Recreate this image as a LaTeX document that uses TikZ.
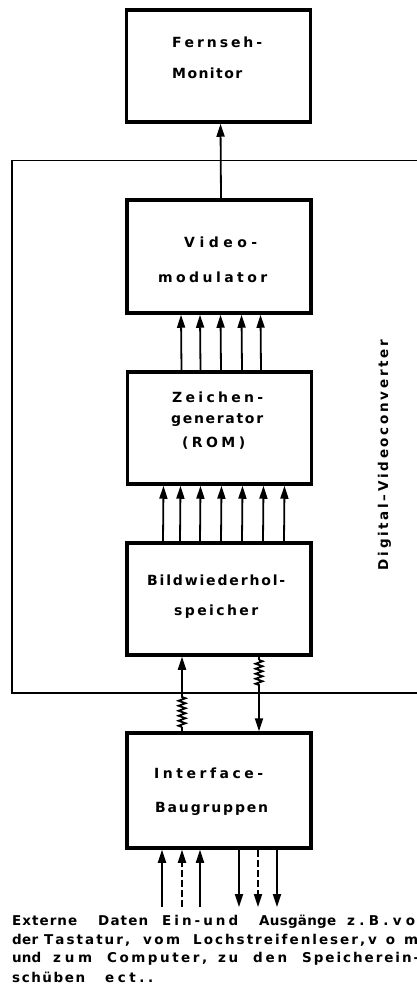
\documentclass[tikz,border=0pt]{standalone}
\usepackage{fontspec}
\newfontfamily\boxfont[UprightFont=* Bold]{DejaVu Sans}
\usetikzlibrary{arrows.meta,decorations.pathmorphing}
\newcommand\spreadword[2]{\makebox[#1][s]{\spreadfirst#2\relax}}
\def\spreadfirst#1{#1\spreadrest}
\def\spreadrest#1{\ifx#1\relax\else\hfil#1\expandafter\spreadrest\fi}
\begin{document}
\begin{tikzpicture}[x=1pt,y=-1pt,
  blk/.style={draw, line width=3.5pt, minimum width=184pt, minimum height=112pt, inner sep=0pt},
  frame/.style={draw, line width=1.3pt, inner sep=0pt},
  con/.style={line width=1.8pt},
  arr/.style={con, -{Triangle[length=13pt,width=8pt]}},
  dsh/.style={dash pattern=on 7pt off 3pt},
  zig/.style={con, decorate, decoration={zigzag, segment length=5pt, amplitude=3.5pt}},
  btxt/.style={font=\boxfont\fontsize{14}{16}\selectfont, inner sep=0pt, anchor=base west},
  ntxt/.style={font=\boxfont\fontsize{13.5}{15}\selectfont, inner sep=0pt, anchor=base west}]
\useasboundingbox (0,0) rectangle (417,987);
\fill[white] (0,0) rectangle (417,987);
\clip (0,0) rectangle (417,987);

% container
\node[frame, minimum width=418pt, minimum height=532.5pt] (dvc) at (221,426.75) {};

% blocks
\node[blk] (mon) at (218.5,66) {};
\node[blk, minimum height=113pt] (vm) at (219,256.5) {};
\node[blk] (zg) at (219.5,428) {};
\node[blk] (bw) at (219,599) {};
\node[blk, minimum height=115pt] (ifc) at (219,790.5) {};

% block texts
\node[btxt] (t1a) at (172,48) {\spreadword{90pt}{Fernseh-}};
\node[btxt] (t1b) at (172,79) {\spreadword{70pt}{Monitor}};
\node[btxt] (t2a) at (184,247) {\spreadword{73pt}{Video-}};
\node[btxt] (t2b) at (158,282) {\spreadword{109pt}{modulator}};
\node[btxt] (t3a) at (172,402) {\spreadword{91pt}{Zeichen-}};
\node[btxt] (t3b) at (171,423) {\spreadword{92pt}{generator}};
\node[btxt] (t3c) at (182,447) {\spreadword{63pt}{(ROM)}};
\node[btxt] (t4a) at (147,585) {\spreadword{138pt}{Bildwiederhol-}};
\node[btxt] (t4b) at (174,615) {\spreadword{84pt}{speicher}};
\node[btxt] (t5a) at (154,778) {\spreadword{109pt}{Interface-}};
\node[btxt] (t5b) at (155,812) {\spreadword{113pt}{Baugruppen}};

% vertical label
\node[ntxt, anchor=base, rotate=90] (lbl) at (388,455) {\spreadword{230pt}{Digital–Videoconverter}};

% video -> monitor
\draw[arr] ([xshift=2pt]vm.north) -- ([xshift=2pt]mon.south);

% zeichengenerator -> videomodulator
\foreach \dx in {-38,-19,1.5,22.5,41.5}
  \draw[arr] ([xshift=\dx pt]zg.north) -- ([xshift=\dx pt]vm.south);

% bildwiederholspeicher -> zeichengenerator
\foreach \dx in {-56,-39,-19,2,23,44,65}
  \draw[arr] ([xshift=\dx pt]bw.north) -- ([xshift=\dx pt]zg.south);

% interface <-> bildwiederholspeicher
\coordinate (lz1) at (182,727);
\coordinate (lz2) at (182,695);
\draw[con] (ifc.north -| lz1) -- (lz1);
\draw[zig] (lz1) -- (lz2);
\draw[arr] (lz2) -- (bw.south -| lz2);
\coordinate (rz1) at (259,660);
\coordinate (rz2) at (259,687);
\draw[con] (bw.south -| rz1) -- (rz1);
\draw[zig] (rz1) -- (rz2);
\draw[arr] (rz2) -- (ifc.north -| rz2);

% external inputs / outputs
\coordinate (e1) at (162,907);
\coordinate (e2) at (182,907);
\coordinate (e3) at (200,907);
\coordinate (a1) at (239,907);
\coordinate (a2) at (258,907);
\coordinate (a3) at (277,907);
\draw[arr] (e1) -- (ifc.south -| e1);
\draw[arr, dsh] (e2) -- (ifc.south -| e2);
\draw[arr] (e3) -- (ifc.south -| e3);
\draw[arr] (ifc.south -| a1) -- (a1);
\draw[arr, dsh] (ifc.south -| a2) -- (a2);
\draw[arr] (ifc.south -| a3) -- (a3);

% note text
\node[ntxt] (n11) at (12,925) {\spreadword{65pt}{Externe}};
\node[ntxt] (n12) at (98,925) {\spreadword{50pt}{Daten}};
\node[ntxt] (n13) at (162,925) {\spreadword{76pt}{Ein-und}};
\node[ntxt] (n14) at (259,925) {\spreadword{77pt}{Ausgänge}};
\node[ntxt] (n15) at (347,925) {\spreadword{82pt}{z.B.von}};
\node[ntxt] (n21) at (12,944) {\spreadword{26pt}{der}};
\node[ntxt] (n22) at (44,944) {\spreadword{86pt}{Tastatur,}};
\node[ntxt] (n23) at (143,944) {\spreadword{37pt}{vom}};
\node[ntxt] (n24) at (193,944) {\spreadword{172pt}{Lochstreifenleser,}};
\node[ntxt] (n25) at (368,944) {\spreadword{50pt}{vom}};
\node[ntxt] (n31) at (12,962) {\spreadword{29pt}{und}};
\node[ntxt] (n32) at (53,962) {\spreadword{39pt}{zum}};
\node[ntxt] (n33) at (107,962) {\spreadword{100pt}{Computer,}};
\node[ntxt] (n34) at (218,962) {\spreadword{20pt}{zu}};
\node[ntxt] (n35) at (253,962) {\spreadword{34pt}{den}};
\node[ntxt] (n36) at (302,962) {\spreadword{117pt}{Speicherein-}};
\node[ntxt] (n41) at (12,982) {\spreadword{73pt}{schüben}};
\node[ntxt] (n42) at (105,982) {\spreadword{48pt}{ect..}};
\end{tikzpicture}
\end{document}
